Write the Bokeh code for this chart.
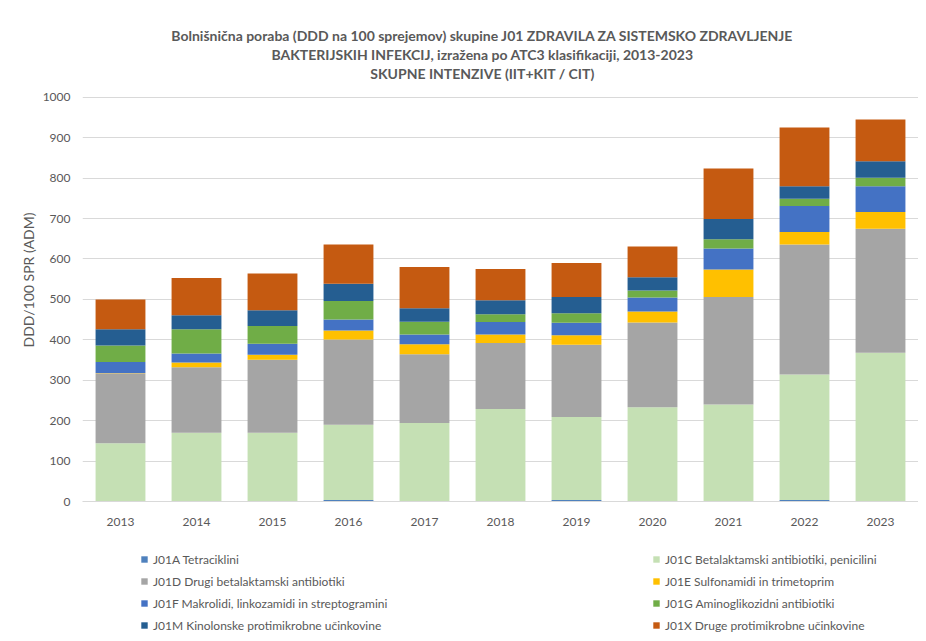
from bokeh.plotting import figure
from bokeh.layouts import column
from bokeh.models import (ColumnDataSource, FactorRange, Range1d, FixedTicker,
                          Legend, LegendItem, Label, Title)
from bokeh.embed import file_html
from bokeh.resources import INLINE

years = ["2013", "2014", "2015", "2016", "2017", "2018", "2019", "2020", "2021", "2022", "2023"]
j01a = [1, 1, 1, 4, 1, 1, 4, 1, 1, 4, 1]
j01c = [143, 169, 169, 186, 193, 228, 205, 232, 239, 310, 367]
j01d = [173, 162, 181, 211, 170, 163, 179, 210, 266, 322, 307]
j01e = [1, 12, 12, 22, 25, 21, 23, 27, 68, 31, 41]
j01f = [27, 22, 27, 27, 24, 31, 31, 35, 52, 64, 64]
j01g = [41, 60, 44, 46, 32, 19, 24, 17, 23, 18, 21]
j01m = [40, 35, 39, 43, 33, 35, 40, 33, 50, 31, 41]
j01x = [74, 92, 91, 97, 102, 77, 84, 76, 125, 145, 103]
y_ticks = [0, 100, 200, 300, 400, 500, 600, 700, 800, 900, 1000]

keys = ["j01a", "j01c", "j01d", "j01e", "j01f", "j01g", "j01m", "j01x"]
names = ["J01A Tetraciklini",
         "J01C Betalaktamski antibiotiki, penicilini",
         "J01D Drugi betalaktamski antibiotiki",
         "J01E Sulfonamidi in trimetoprim",
         "J01F Makrolidi, linkozamidi in streptogramini",
         "J01G Aminoglikozidni antibiotiki",
         "J01M Kinolonske protimikrobne učinkovine",
         "J01X Druge protimikrobne učinkovine"]
colors = ["#4F81BD", "#C5E0B4", "#A5A5A5", "#FFC000", "#4472C4", "#70AD47", "#255E91", "#C55A11"]

title_lines = ["Bolnišnična poraba (DDD na 100 sprejemov) skupine J01 ZDRAVILA ZA SISTEMSKO ZDRAVLJENJE",
               "BAKTERIJSKIH INFEKCIJ, izražena po ATC3 klasifikaciji, 2013-2023",
               "SKUPNE INTENZIVE (IIT+KIT / CIT)"]
y_title = "DDD/100 SPR (ADM)"

source = ColumnDataSource(dict(years=years, j01a=j01a, j01c=j01c, j01d=j01d, j01e=j01e,
                               j01f=j01f, j01g=j01g, j01m=j01m, j01x=j01x))

FONT = "Lato"
GRAY = "#595959"

p = figure(width=918, height=540, output_backend="svg", toolbar_location=None, title=None,
           x_range=FactorRange(*years, range_padding=0), y_range=Range1d(0, 1190),
           min_border_left=82, min_border_right=0, min_border_top=20, min_border_bottom=39)

renderers = p.vbar_stack(keys, x="years", width=0.656, color=colors, line_color=None,
                         source=source)

p.outline_line_color = None
p.xgrid.grid_line_color = None
p.ygrid.grid_line_color = "#D9D9D9"
p.ygrid.grid_line_width = 1

p.yaxis.ticker = FixedTicker(ticks=y_ticks)
p.yaxis.axis_line_color = None
p.yaxis.major_tick_line_color = None
p.yaxis.minor_tick_line_color = None
p.yaxis.major_label_standoff = 6
p.yaxis.major_label_text_font = FONT
p.yaxis.major_label_text_font_size = "12px"
p.yaxis.major_label_text_color = GRAY

p.add_layout(Title(text=y_title, align="left", offset=154, text_font=FONT,
                   text_font_style="normal", text_font_size="14px", text_color=GRAY,
                   standoff=6), "left")

p.xaxis.axis_line_color = "#D9D9D9"
p.xaxis.major_tick_line_color = None
p.xaxis.minor_tick_line_color = None
p.xaxis.major_label_standoff = 10
p.xaxis.major_label_text_font = FONT
p.xaxis.major_label_text_font_size = "12px"
p.xaxis.major_label_text_color = GRAY

for i, line in enumerate(title_lines):
    p.add_layout(Label(x=400, y=466 - 19 * i, x_units="screen", y_units="screen", text=line,
                       text_align="center", text_baseline="middle", text_font=FONT,
                       text_font_style="bold", text_font_size="14px", text_color=GRAY))

# legend panel (separate figure below the chart, frames are aligned)
q = figure(width=918, height=93, output_backend="svg", toolbar_location=None, title=None,
           x_range=FactorRange(*years, range_padding=0), y_range=Range1d(0, 1),
           min_border_left=0, min_border_right=0, min_border_top=0, min_border_bottom=0)
q.axis.visible = False
q.grid.visible = False
q.outline_line_color = None
proxies = q.vbar_stack(keys, x="years", width=0.656, color=colors, line_color=None,
                       source=source)
for r in proxies:
    r.visible = False

def make_legend(idx, loc):
    return Legend(items=[LegendItem(label=names[i], renderers=[proxies[i]]) for i in idx],
                  location=loc, orientation="vertical",
                  glyph_width=8, glyph_height=8, label_standoff=5,
                  label_height=16, spacing=6, padding=0, margin=0,
                  border_line_color=None, background_fill_alpha=0,
                  inactive_fill_alpha=0,
                  label_text_font=FONT, label_text_font_size="12px", label_text_color=GRAY)

q.add_layout(make_legend([0, 2, 4, 6], (58, 0)), "center")
q.add_layout(make_legend([1, 3, 5, 7], (570, 0)), "center")

layout = column(p, q, spacing=0)
open("out.html", "w").write(file_html(layout, INLINE))
